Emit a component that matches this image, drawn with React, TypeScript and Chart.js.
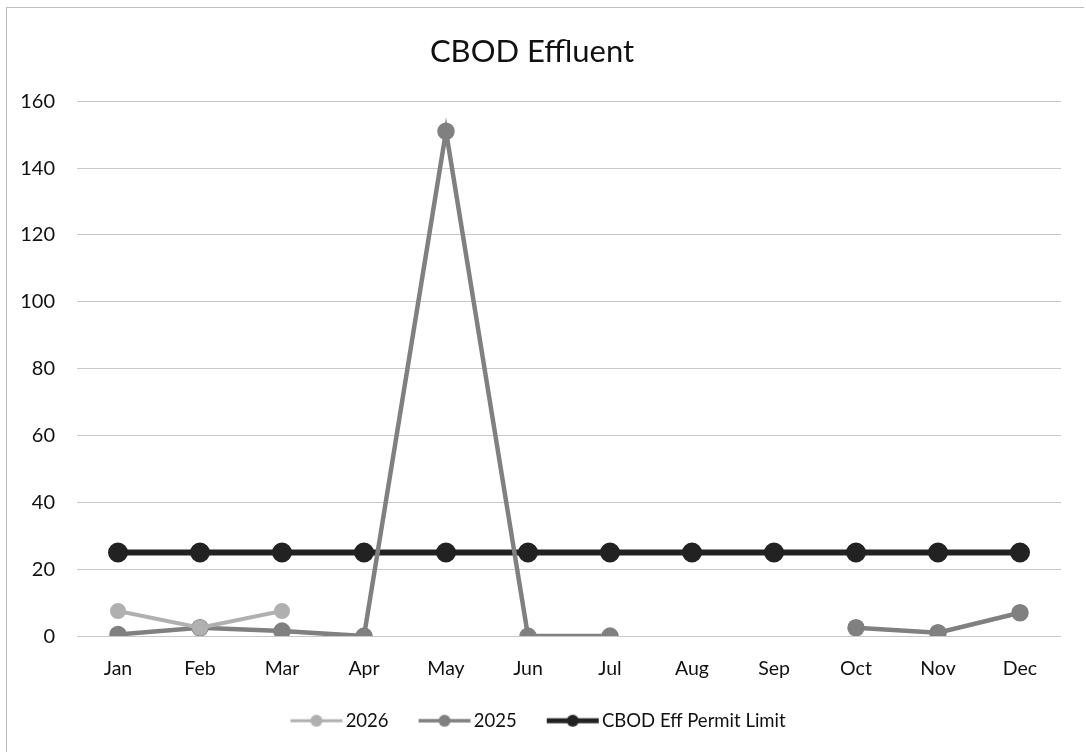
import React, { useEffect, useRef } from "react";
import { Chart, registerables } from "chart.js";

Chart.register(...registerables);

const months = ["Jan", "Feb", "Mar", "Apr", "May", "Jun", "Jul", "Aug", "Sep", "Oct", "Nov", "Dec"];
const series2026: (number | null)[] = [7.5, 2.5, 7.5, null, null, null, null, null, null, null, null, null];
const series2025: (number | null)[] = [0.5, 2.5, 1.5, 0, 151, 0, 0, null, null, 2.5, 1, 7];
const permitLimit: number[] = [25, 25, 25, 25, 25, 25, 25, 25, 25, 25, 25, 25];
const yTicks = [0, 20, 40, 60, 80, 100, 120, 140, 160];

const FONT = "Lato, 'Open Sans', sans-serif";
// legend swatch image: wider than its box, so the visible line sits close to its text
const BOX_W = 58;
const IMG_W = 76;
const LINE_FROM = 21;
const LINE_TO = 73;

function swatch(color: string, lw: number, r: number): HTMLCanvasElement {
  const c = document.createElement("canvas");
  c.width = IMG_W;
  c.height = 16;
  const ctx = c.getContext("2d")!;
  ctx.strokeStyle = color;
  ctx.lineWidth = lw;
  ctx.beginPath();
  ctx.moveTo(LINE_FROM, 8);
  ctx.lineTo(LINE_TO, 8);
  ctx.stroke();
  ctx.fillStyle = color;
  ctx.beginPath();
  ctx.arc((LINE_FROM + LINE_TO) / 2, 8, r, 0, Math.PI * 2);
  ctx.fill();
  return c;
}

export default function App() {
  const ref = useRef<HTMLCanvasElement | null>(null);
  useEffect(() => {
    document.body.style.margin = "0";
    const colors = ["#b0b0b0", "#808080", "#222222"];
    const widths = [4, 4.5, 6];
    const chart = new Chart(ref.current!, {
      type: "line",
      data: {
        labels: months,
        datasets: [
          { label: "2026", data: series2026, borderColor: colors[0], backgroundColor: colors[0], borderWidth: widths[0], pointRadius: 6, pointHoverRadius: 6, spanGaps: false },
          { label: "2025", data: series2025, borderColor: colors[1], backgroundColor: colors[1], borderWidth: widths[1], pointRadius: 6.5, pointHoverRadius: 6.5, spanGaps: false },
          { label: "CBOD Eff Permit Limit", data: permitLimit, borderColor: colors[2], backgroundColor: colors[2], borderWidth: widths[2], pointRadius: 7, pointHoverRadius: 7 },
        ],
      },
      options: {
        responsive: false,
        animation: false,
        layout: { padding: { left: 3, right: 25, top: 8, bottom: 12 } },
        plugins: {
          title: {
            display: true,
            text: "CBOD Effluent",
            color: "#111",
            font: { family: FONT, size: 31, weight: "normal" },
            padding: { top: 25, bottom: 31 },
          },
          legend: {
            position: "bottom",
            labels: {
              color: "#111",
              font: { family: FONT, size: 18.5 },
              usePointStyle: true,
              pointStyleWidth: BOX_W,
              padding: 18,
              generateLabels: (ch: any) =>
                ch.data.datasets.map((ds: any, i: number) => ({
                  text: ds.label,
                  fillStyle: colors[i],
                  strokeStyle: colors[i],
                  lineWidth: 0,
                  pointStyle: swatch(colors[i], widths[i] - 1, 6),
                  hidden: false,
                  datasetIndex: i,
                  fontColor: "#111",
                })),
            },
          },
          tooltip: { enabled: false },
        },
        scales: {
          x: {
            offset: true,
            grid: { display: false },
            border: { display: false },
            ticks: { color: "#111", font: { family: FONT, size: 19.5 }, padding: 13 },
          },
          y: {
            min: 0,
            max: 160,
            afterBuildTicks: (axis: any) => {
              axis.ticks = yTicks.map((v) => ({ value: v }));
            },
            afterFit: (axis: any) => {
              axis.width = 74;
            },
            grid: { color: "#c8c8c8", lineWidth: 1, drawTicks: false },
            border: { display: false },
            ticks: { color: "#111", font: { family: FONT, size: 20 }, padding: 22 },
          },
        },
      },
    });
    return () => chart.destroy();
  }, []);
  return (
    <div style={{ position: "absolute", left: 0, top: 0, width: 1086, height: 752, background: "#fff", overflow: "hidden" }}>
      <canvas ref={ref} width={1086} height={752} style={{ width: 1086, height: 752, display: "block" }} />
      <div style={{ position: "absolute", left: 6, top: 7, width: 1077, height: 760, borderTop: "1px solid #bdbdbd", borderLeft: "1px solid #bdbdbd", pointerEvents: "none" }} />
    </div>
  );
}
